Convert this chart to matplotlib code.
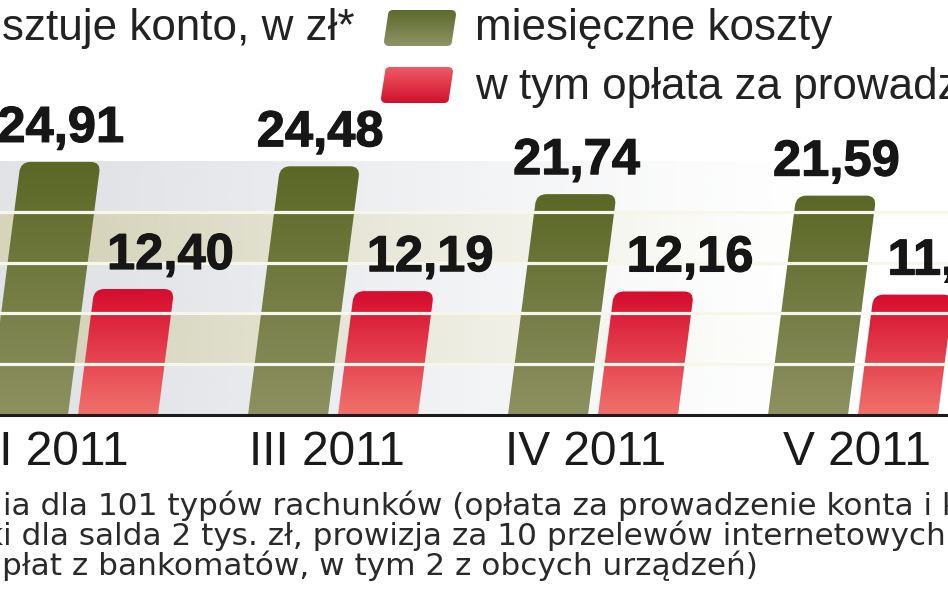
import numpy as np
import matplotlib
matplotlib.use('Agg')
import matplotlib.pyplot as plt
from matplotlib.path import Path
from matplotlib.patches import PathPatch
from matplotlib.colors import to_rgb
from matplotlib import patheffects as pe
from matplotlib.transforms import ScaledTranslation

# ---------------- data ----------------
months = ['II 2011', 'III 2011', 'IV 2011', 'V 2011']
monthly_costs = [24.91, 24.48, 21.74, 21.59]
account_fee = [12.40, 12.19, 12.16, 11.85]
monthly_labels = ['24,91', '24,48', '21,74', '21,59']
fee_labels = ['12,40', '12,19', '12,16', '11,85']
title_text = 'sztuje konto, w zł*'
legend_labels = ['miesięczne koszty', 'w tym opłata za prowadzenie konta']
footnote_lines = [
    'ia dla 101 typów rachunków (opłata za prowadzenie konta i karty',
    'ki dla salda 2 tys. zł, prowizja za 10 przelewów internetowych',
    'płat z bankomatów, w tym 2 z obcych urządzeń)',
]
grid_levels = [5, 10, 15, 20]
band_top = 25

# ---------------- layout (pixels) ----------------
W, H = 948, 593
fig = plt.figure(figsize=(W / 100, H / 100), dpi=100)
fig.patch.set_facecolor('white')

px_base, px_top = 415, 161
x0_px, step_px = 73, 260
ax = fig.add_axes([0, (H - px_base) / H, 1, (px_base - px_top) / H])
xlim = (-x0_px / step_px, (W - x0_px) / step_px)
ylim = (0, band_top)
px_per_x = step_px
px_per_y = (px_base - px_top) / band_top

bw = 80 / px_per_x
off = 45 / px_per_x
slant = 0.129 * px_per_y / px_per_x   # x-shift per y unit
rx, ry = 10 / px_per_x, 10 / px_per_y

GREEN_TOP, GREEN_BOT = '#5a6725', '#8d9161'
RED_TOP, RED_BOT = '#d60c2e', '#f0726c'


def bar_path(xc, v):
    xl = xc - bw / 2
    xr = xc + bw / 2
    s = slant * v
    verts = [
        (xl, 0), (xr, 0),
        (xr + s - slant * ry, v - ry),
        (xr + s, v), (xr + s - rx, v),
        (xl + s + rx, v),
        (xl + s, v), (xl + s - slant * ry, v - ry),
        (xl, 0),
    ]
    codes = [Path.MOVETO, Path.LINETO, Path.LINETO,
             Path.CURVE3, Path.CURVE3, Path.LINETO,
             Path.CURVE3, Path.CURVE3, Path.CLOSEPOLY]
    return Path(verts, codes)


def gradient(top, bot, n=256):
    t = np.linspace(0, 1, n)[:, None]
    c0, c1 = np.array(to_rgb(bot)), np.array(to_rgb(top))
    img = c0[None, None, :] * (1 - t[:, :, None]) + c1[None, None, :] * t[:, :, None]
    return img  # row 0 = bottom colour (origin lower)


def draw_bar(xc, v, top, bot):
    path = bar_path(xc, v)
    patch = PathPatch(path, facecolor='none', edgecolor='none')
    ax.add_patch(patch)
    xl = xc - bw / 2
    im = ax.imshow(gradient(top, bot), origin='lower', aspect='auto',
                   extent=[xl - 0.01, xl + bw + slant * v + 0.01, 0, v],
                   zorder=2, interpolation='bilinear')
    im.set_clip_path(patch)


# background bands fading to the right
N, M = 50, 400
gray = np.array(to_rgb('#e1e3e7'))
beige = np.array(to_rgb('#d6d5bc'))
bg = np.zeros((5 * N, M, 4))
for b in range(5):
    bg[b * N:(b + 1) * N, :, :3] = gray if b % 2 == 0 else beige
xs_px = np.linspace(0, W, M)
alpha = np.clip(1 - (xs_px - 100) / 720, 0, 1) ** 1.2
bg[:, :, 3] = alpha[None, :]
ax.imshow(bg, origin='lower', aspect='auto',
          extent=[xlim[0], xlim[1], 0, band_top], zorder=0)

x = np.arange(len(months))
for i in range(len(months)):
    draw_bar(x[i] - off, monthly_costs[i], GREEN_TOP, GREEN_BOT)
    draw_bar(x[i] + off, account_fee[i], RED_TOP, RED_BOT)

for g in grid_levels:
    ax.axhline(g, color='#f7f6e9', lw=2.3, zorder=3)

val_kw = dict(textcoords='offset points', ha='center', va='baseline',
              fontsize=36.5, fontweight='bold', family='Liberation Sans',
              color='#161616', annotation_clip=False, zorder=6,
              path_effects=[pe.withStroke(linewidth=0.8, foreground='#161616')])
for i in range(len(months)):
    v = monthly_costs[i]
    xt = x[i] - off + slant * v
    ax.annotate(monthly_labels[i], xy=(xt, v), xytext=(0, 14.4), **val_kw)
    v = account_fee[i]
    xt = x[i] + off + slant * v
    ax.annotate(fee_labels[i], xy=(xt, v), xytext=(26, 14.4), **val_kw)

ax.set_xlim(*xlim)
ax.set_ylim(*ylim)
for s in ['top', 'left', 'right']:
    ax.spines[s].set_visible(False)
ax.spines['bottom'].set_linewidth(2.2)
ax.spines['bottom'].set_color('#1c1c1c')
ax.spines['bottom'].set_zorder(4)
ax.set_yticks([])
ax.set_xticks(x)
ax.set_xticklabels(months, fontsize=34.5, family='Liberation Sans', color='#1a1a1a')
ax.tick_params(axis='x', length=0, pad=11)
ax.patch.set_alpha(0)
# small per-label horizontal nudges (pixels)
nudges = [-16, -6, -7, 4]
for lab, dx in zip(ax.get_xticklabels(), nudges):
    lab.set_transform(lab.get_transform() + ScaledTranslation(dx / 100, 0, fig.dpi_scale_trans))

# ---------------- overlay (title, legend, footnote) ----------------
ov = fig.add_axes([0, 0, 1, 1], zorder=5)
ov.set_xlim(0, W)
ov.set_ylim(H, 0)
ov.axis('off')
ov.patch.set_alpha(0)

txt_kw = dict(fontsize=31.7, family='Liberation Sans', color='#222222', va='baseline')
ov.text(2, 40, title_text, **txt_kw)


def swatch(x0, y0, x1, y1, top, bot):
    sl = 4
    r = 5
    verts = [(x0, y1), (x1 - r, y1), (x1, y1), (x1, y1 - r),
             (x1 + sl, y0 + r), (x1 + sl, y0), (x1 + sl - r, y0),
             (x0 + sl + r, y0), (x0 + sl, y0), (x0 + sl, y0 + r),
             (x0, y1 - r), (x0, y1), (x0 + r, y1), (x0, y1)]
    codes = [Path.MOVETO, Path.LINETO, Path.CURVE3, Path.CURVE3,
             Path.LINETO, Path.CURVE3, Path.CURVE3,
             Path.LINETO, Path.CURVE3, Path.CURVE3,
             Path.LINETO, Path.CURVE3, Path.CURVE3, Path.CLOSEPOLY]
    patch = PathPatch(Path(verts, codes), facecolor='none', edgecolor='none')
    ov.add_patch(patch)
    img = gradient(top, bot)[::-1]  # row 0 = top
    im = ov.imshow(img, origin='upper', aspect='auto',
                   extent=[x0 - 2, x1 + sl + 2, y1, y0], interpolation='bilinear')
    im.set_clip_path(patch)


swatch(384, 10, 452, 46, '#5c6a2a', '#8f9466')
swatch(381, 67, 449, 103, '#ee5c62', '#d0102f')
ov.text(475, 40, legend_labels[0], **txt_kw)
ov.text(475, 99, legend_labels[1], **txt_kw)

foot_kw = dict(fontsize=22.4, family='DejaVu Sans', color='#2a2a2a', va='baseline')
ov.text(3, 515, footnote_lines[0], **foot_kw)
ov.text(-15, 545, footnote_lines[1], **foot_kw)
ov.text(2, 575, footnote_lines[2], **foot_kw)
ov.set_xlim(0, W)
ov.set_ylim(H, 0)

fig.savefig('out.png', dpi=100, facecolor='white')
